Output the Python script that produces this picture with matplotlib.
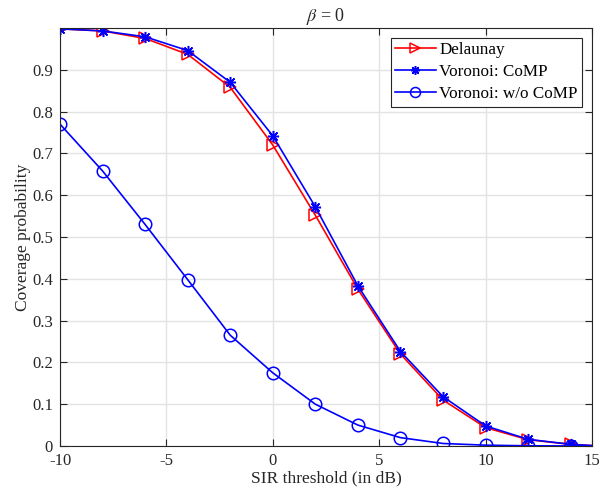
import matplotlib
matplotlib.use("Agg")
import matplotlib.pyplot as plt
import numpy as np

x = [-10, -8, -6, -4, -2, 0, 2, 4, 6, 8, 10, 12, 14, 15]
delaunay = [0.998, 0.993, 0.975, 0.937, 0.858, 0.720, 0.552, 0.375, 0.220, 0.110, 0.044, 0.015, 0.004, 0.001]
voronoi_comp = [0.998, 0.993, 0.979, 0.946, 0.870, 0.742, 0.572, 0.383, 0.226, 0.118, 0.048, 0.016, 0.004, 0.001]
voronoi_wo = [0.770, 0.658, 0.530, 0.398, 0.265, 0.175, 0.100, 0.050, 0.020, 0.006, 0.002, 0.0005, 0.0001, 0.0]
xticks = [-10, -5, 0, 5, 10, 15]
yticks = [0, 0.1, 0.2, 0.3, 0.4, 0.5, 0.6, 0.7, 0.8, 0.9]

plt.rcParams['font.family'] = ['Liberation Serif', 'DejaVu Serif']
plt.rcParams['mathtext.fontset'] = 'stix'

fig = plt.figure(figsize=(6.0, 4.96), dpi=100)
L, R, T, B = 60, 592, 28, 446
ax = fig.add_axes([L/600, (496-B)/496, (R-L)/600, (B-T)/496])

mev = list(range(13))
ax.plot(x, delaunay, color='red', lw=1.2, marker='>', ms=9, mfc='none', mec='red', mew=1.1,
        markevery=mev, label='Delaunay')
ax.plot(x, voronoi_comp, color='blue', lw=1.2, marker=(8, 2, 0), ms=8, mec='blue', mew=1.1,
        markevery=mev, label='Voronoi: CoMP')
ax.plot(x, voronoi_wo, color='blue', lw=1.2, marker='o', ms=9, mfc='none', mec='blue', mew=1.1,
        markevery=mev, label='Voronoi: w/o CoMP')

ax.set_xlim(-10, 15)
ax.set_ylim(0, 1)
ax.set_xticks(xticks)
ax.set_xticklabels([str(t) for t in xticks])
ax.set_yticks(yticks)
ax.set_yticklabels(['0'] + [f'{t:.1f}' for t in yticks[1:]])
ax.grid(True, color='#e3e3e3', lw=1.0)
ax.set_axisbelow(True)
ax.tick_params(direction='in', top=True, right=True, labelsize=12, colors='#262626',
               length=5, width=0.8)
ax.tick_params(axis='x', pad=5)
ax.tick_params(axis='y', pad=5)
for s in ax.spines.values():
    s.set_color('#262626')
    s.set_linewidth(0.8)

ax.set_xlabel('SIR threshold (in dB)', fontsize=12.5, color='#262626', labelpad=1)
ax.set_ylabel('Coverage probability', fontsize=12.5, color='#262626', labelpad=1)
ax.set_title(r'$\beta$ = 0', fontsize=13, color='#262626', pad=5)

leg = ax.legend(loc='upper right', bbox_to_anchor=(582/600, (496-38)/496),
                bbox_transform=fig.transFigure, fontsize=12.3, frameon=True, fancybox=False,
                edgecolor='#262626', framealpha=1, handlelength=2.4, borderpad=0.25,
                labelspacing=0.35, handletextpad=0.2, borderaxespad=0.0, markerscale=0.8)
leg.get_frame().set_linewidth(0.8)

fig.savefig('out.png', dpi=100)
